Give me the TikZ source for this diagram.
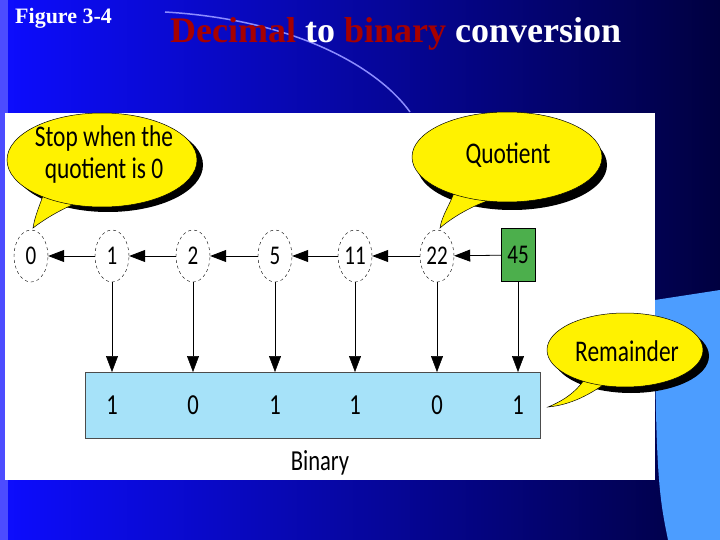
\documentclass[tikz,border=0pt]{standalone}
\usepackage{fontspec}
\setmainfont{Liberation Serif}
\newfontfamily\cf[FakeStretch=0.78]{Carlito}
\usetikzlibrary{shapes.geometric,arrows.meta}
\begin{document}
\begin{tikzpicture}[x=1pt,y=-1pt,
  q/.style={ellipse,draw,dashed,fill=white,minimum width=34,minimum height=52,inner sep=0pt,font=\cf\fontsize{27}{27}\selectfont},
  arr/.style={-{Triangle[length=16,width=12]},line width=0.8},
  dig/.style={font=\cf\fontsize{29}{29}\selectfont},
  callout/.style={font=\cf\fontsize{30}{32}\selectfont,align=center}]
\useasboundingbox (0,0) rectangle (720,540);
\shade[left color=blue!95!white,right color=blue!25!black] (0,0) rectangle (720,540);
\fill[blue!70!white] (0,0) rectangle (8,540);
\draw[blue!45!white,line width=1.5] (165,12) .. controls (300,20) and (380,70) .. (410,112);
\fill[blue!55!cyan!70!white] (655,300) -- (720,290) -- (720,540) -- (668,540) .. controls (660,500) and (655,480) .. (655,300);
\fill[white] (5,113) rectangle (655,480);
\node[font=\bfseries\fontsize{22}{22}\selectfont,text=white,anchor=west,inner sep=0] (fig) at (15,18) {Figure 3-4};
\node[font=\bfseries\fontsize{36}{36}\selectfont,anchor=west,inner sep=0] (title) at (170,34) {\textcolor{red!65!black}{Decimal} \textcolor{white}{to} \textcolor{red!65!black}{binary} \textcolor{white}{conversion}};
% callouts
\begin{scope}
 \fill[black] (108,165) ellipse[x radius=95,y radius=47];
 \fill[yellow,draw=black,line width=0.5] (45,190) .. controls (40,205) and (35,215) .. (33,228) .. controls (50,215) and (70,205) .. (85,200) -- cycle;
 \fill[yellow,draw=black,line width=0.5] (102,160) ellipse[x radius=95,y radius=47];
 \fill[yellow] (50,185) -- (85,198) -- (75,180) -- cycle;
 \node[callout] (stop) at (104,155) {Stop when the\\quotient is 0};
 \fill[black] (512,165) ellipse[x radius=95,y radius=45];
 \fill[yellow,draw=black,line width=0.5] (455,190) .. controls (450,205) and (442,215) .. (440,228) .. controls (455,215) and (475,205) .. (490,200) -- cycle;
 \fill[yellow,draw=black,line width=0.5] (507,157) ellipse[x radius=95,y radius=45];
 \fill[yellow] (458,185) -- (490,198) -- (480,180) -- cycle;
 \node[callout] (quot) at (508,155) {Quotient};
 \fill[black] (631,356) ellipse[x radius=78,y radius=37];
 \fill[yellow,draw=black,line width=0.5] (590,370) .. controls (580,390) and (565,400) .. (548,407) .. controls (570,405) and (590,395) .. (610,380) -- cycle;
 \fill[yellow,draw=black,line width=0.5] (625,350) ellipse[x radius=78,y radius=37];
 \fill[yellow] (592,366) -- (608,378) -- (605,365) -- cycle;
 \node[callout] (rem) at (627,351) {Remainder};
\end{scope}
% quotient nodes
\node[q] (n0) at (31,256) {0};
\node[q] (n1) at (112,256) {1};
\node[q] (n2) at (193,256) {2};
\node[q] (n5) at (275,256) {5};
\node[q] (n11) at (355,256) {11};
\node[q] (n22) at (437,256) {22};
\node[draw,fill=green!55!black!70!white,minimum width=34,minimum height=53,inner sep=0pt,font=\cf\fontsize{27}{27}\selectfont] (n45) at (518,255) {45};
\foreach \a/\b in {n45/n22,n22/n11,n11/n5,n5/n2,n2/n1,n1/n0} \draw[arr] (\a) -- (\b);
% binary box
\node[draw=gray!60!black,fill=cyan!35!white,minimum width=455,minimum height=66,inner sep=0pt] (box) at (312.5,405) {};
\foreach \n/\x/\d in {n1/112/1,n2/193/0,n5/275/1,n11/355/1,n22/437/0,n45/518/1}{
  \coordinate (t\n) at (\x,372);
  \draw[arr,line width=0.5] (\n) -- (t\n);
  \node[dig] (d\n) at (\x,405) {\d};
}
\node[font=\cf\fontsize{29}{29}\selectfont] (bin) at (320,463) {Binary};
\end{tikzpicture}
\end{document}
